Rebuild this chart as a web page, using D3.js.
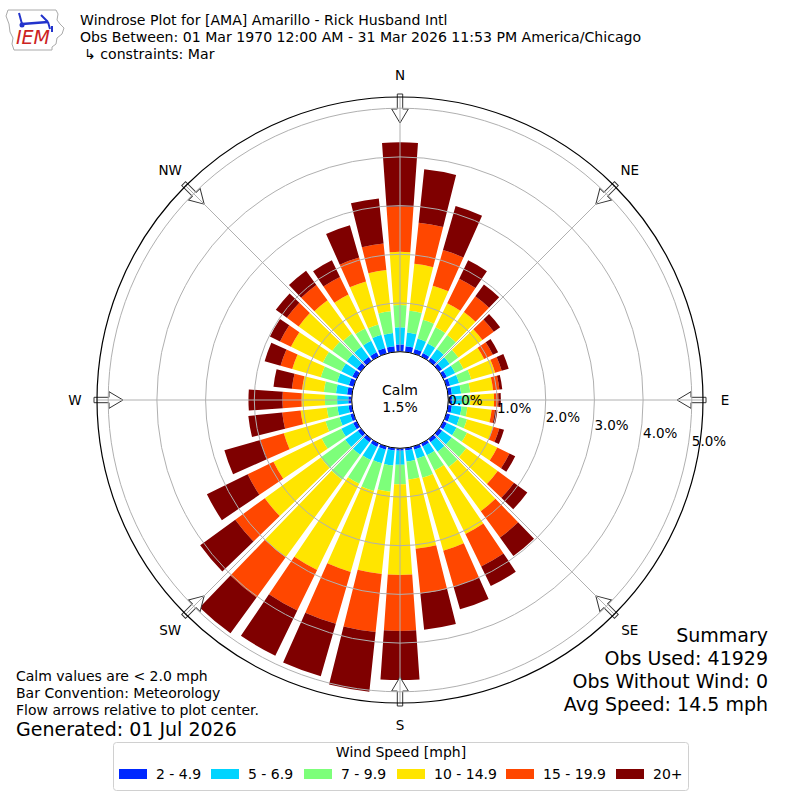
<!DOCTYPE html>
<html>
<head>
<meta charset="utf-8">
<script src="https://cdn.jsdelivr.net/npm/d3@7"></script>
<style>
  body { margin: 0; background: #fff; }
  svg text { font-family: "DejaVu Sans", sans-serif; fill: #000; }
</style>
</head>
<body>
<svg id="chart_svg" width="800" height="800"></svg>
<script>
// directions the wind comes from, degrees
var directions = d3.range(0, 360, 10);

// percent of obs per direction, one array per speed bin (mph)
var speed2  = [0.15,0.12,0.10,0.08,0.08,0.08,0.08,0.08,0.08,0.08,0.08,0.08,0.08,0.08,0.08,0.07,0.07,0.05,
               0.05,0.05,0.07,0.08,0.08,0.08,0.08,0.07,0.07,0.07,0.10,0.10,0.10,0.10,0.10,0.10,0.12,0.12];
var speed5  = [0.35,0.28,0.22,0.22,0.22,0.19,0.19,0.19,0.19,0.20,0.20,0.20,0.22,0.24,0.24,0.20,0.19,0.23,
               0.29,0.31,0.29,0.30,0.32,0.32,0.27,0.23,0.23,0.23,0.23,0.25,0.25,0.26,0.26,0.26,0.28,0.27];
var speed7  = [0.46,0.45,0.40,0.37,0.36,0.22,0.19,0.26,0.19,0.17,0.12,0.16,0.24,0.37,0.39,0.35,0.41,0.37,
               0.40,0.54,0.59,0.54,0.63,0.62,0.45,0.30,0.22,0.25,0.25,0.35,0.42,0.37,0.33,0.28,0.22,0.45];
var speed10 = [1.09,0.97,0.73,0.55,0.58,0.61,0.47,0.51,0.47,0.49,0.50,0.56,0.69,0.80,1.12,1.45,1.56,1.43,
               1.86,1.70,1.73,1.97,1.97,1.42,1.10,0.89,0.54,0.48,0.45,0.61,0.73,0.85,0.85,0.78,0.92,0.85];
var speed15 = [0.93,0.85,0.76,0.56,0.40,0.29,0.20,0.14,0.13,0.09,0.07,0.13,0.28,0.41,0.67,0.74,0.76,0.92,
               1.15,1.20,1.11,0.93,1.02,0.75,0.59,0.50,0.38,0.39,0.21,0.25,0.25,0.30,0.39,0.40,0.51,0.55];
var speed20 = [1.32,1.10,0.94,0.42,0.30,0.16,0.12,0.15,0.06,0.05,0.05,0.10,0.13,0.34,0.47,0.45,0.49,0.75,
               1.01,1.23,1.12,1.03,0.91,0.89,0.93,0.77,0.70,0.70,0.38,0.34,0.23,0.28,0.36,0.38,0.69,0.93];

var speedKeys = ["s2", "s5", "s7", "s10", "s15", "s20"];
var speedLabels = ["2 - 4.9", "5 - 6.9", "7 - 9.9", "10 - 14.9", "15 - 19.9", "20+"];
var speedColors = ["#0028ff", "#00d4ff", "#7dff7a", "#ffe500", "#ff4700", "#7f0000"];

var ringTicks = [0, 1, 2, 3, 4, 5];
var compass = [
  { name: "N", deg: 0 }, { name: "NE", deg: 45 }, { name: "E", deg: 90 }, { name: "SE", deg: 135 },
  { name: "S", deg: 180 }, { name: "SW", deg: 225 }, { name: "W", deg: 270 }, { name: "NW", deg: 315 }
];

var calmPct = "1.5%";
var titleLines = [
  "Windrose Plot for [AMA] Amarillo - Rick Husband Intl",
  "Obs Between: 01 Mar 1970 12:00 AM - 31 Mar 2026 11:53 PM America/Chicago",
  "\u21b3 constraints: Mar"
];
var noteLines = ["Calm values are < 2.0 mph", "Bar Convention: Meteorology", "Flow arrows relative to plot center."];
var summaryLines = ["Summary", "Obs Used: 41929", "Obs Without Wind: 0", "Avg Speed: 14.5 mph"];

var CX = 400, CY = 400;
var R_OUTER = 303;

function drawWindrose() {
  var svg = d3.select("#chart_svg");
  var rad = Math.PI / 180;

  // table for d3.stack
  var table = directions.map(function (d, i) {
    return { dir: d, s2: speed2[i], s5: speed5[i], s7: speed7[i], s10: speed10[i], s15: speed15[i], s20: speed20[i] };
  });
  var series = d3.stack().keys(speedKeys)(table);

  var rScale = d3.scaleLinear().domain([0, 5.23]).range([48.3, R_OUTER]);
  var color = d3.scaleOrdinal().domain(speedKeys).range(speedColors);

  var plot = svg.append("g").attr("transform", "translate(" + CX + "," + CY + ")");

  // bars, 8 degrees wide out of each 10 degree sector
  var arc = d3.arc()
    .innerRadius(function (d) { return rScale(d[0]); })
    .outerRadius(function (d) { return rScale(d[1]); })
    .startAngle(function (d) { return (d.data.dir - 4) * rad; })
    .endAngle(function (d) { return (d.data.dir + 4) * rad; });

  plot.selectAll("g.layer").data(series).enter().append("g")
    .attr("class", "layer")
    .attr("fill", function (s) { return color(s.key); })
    .selectAll("path").data(function (s) { return s; }).enter().append("path")
    .attr("d", arc);

  // arrows at the compass points, pointing inward
  compass.forEach(function (c) {
    var a = plot.append("g").attr("transform", "rotate(" + c.deg + ")");
    a.append("path")
      .attr("d", "M-2.7," + (-306) + "L2.7," + (-306) + "L2.7," + (-291) + "L8.3," + (-291) +
                 "L0," + (-277) + "L-8.3," + (-291) + "L-2.7," + (-291) + "Z")
      .attr("fill", "#fff").attr("stroke", "#333").attr("stroke-width", 1);
  });

  // grid over the bars
  plot.selectAll("circle.ring").data(ringTicks).enter().append("circle")
    .attr("class", "ring").attr("r", function (d) { return rScale(d); })
    .attr("fill", "none").attr("stroke", "#b0b0b0").attr("stroke-width", 1);

  plot.selectAll("line.spoke").data(compass).enter().append("line")
    .attr("class", "spoke")
    .attr("x1", function (c) { return rScale(0) * Math.sin(c.deg * rad); })
    .attr("y1", function (c) { return -rScale(0) * Math.cos(c.deg * rad); })
    .attr("x2", function (c) { return R_OUTER * Math.sin(c.deg * rad); })
    .attr("y2", function (c) { return -R_OUTER * Math.cos(c.deg * rad); })
    .attr("stroke", "#b0b0b0").attr("stroke-width", 1);

  plot.append("circle").attr("r", R_OUTER).attr("fill", "none").attr("stroke", "#000").attr("stroke-width", 1.2);
  plot.append("circle").attr("r", rScale(0)).attr("fill", "#fff").attr("stroke", "#000").attr("stroke-width", 1);

  plot.append("text").attr("x", 0).attr("y", -5).attr("text-anchor", "middle")
    .attr("font-size", 14).text("Calm");
  plot.append("text").attr("x", 0).attr("y", 12).attr("text-anchor", "middle")
    .attr("font-size", 14).text(calmPct);

  // radial labels
  plot.selectAll("text.rlab").data(ringTicks).enter().append("text")
    .attr("class", "rlab")
    .attr("x", function (d) { return rScale(d); })
    .attr("y", function (d) { return (rScale(d) - rScale(0)) * 0.17; })
    .attr("dominant-baseline", "central")
    .attr("font-size", 13.5)
    .text(function (d) { return d.toFixed(1) + "%"; });

  // compass labels
  plot.selectAll("text.clab").data(compass).enter().append("text")
    .attr("class", "clab")
    .attr("x", function (c) { return 325 * Math.sin(c.deg * rad); })
    .attr("y", function (c) { return -325 * Math.cos(c.deg * rad); })
    .attr("text-anchor", "middle").attr("dominant-baseline", "central")
    .attr("font-size", 13.5)
    .text(function (c) { return c.name; });

  // header
  titleLines.forEach(function (t, i) {
    svg.append("text").attr("x", i === 2 ? 84 : 80).attr("y", 25 + i * 17).attr("font-size", 14.1).text(t);
  });

  // logo
  var logo = svg.append("g");
  logo.append("path")
    .attr("d", "M8,10 L56,10 L58,14 L57,20 L60,24 L64,28 L62,34 L57,38 L56,44 L52,47 L52,50 L14,50 L12,44 L13,38 L10,32 L9,24 L6,16 Z")
    .attr("fill", "none").attr("stroke", "#aaa").attr("stroke-width", 1);
  logo.append("path").attr("d", "M22,24 L48,22").attr("stroke", "#2233cc").attr("stroke-width", 2.5).attr("fill", "none");
  logo.append("path").attr("d", "M19,13 L22,24 M41,15 L48,22 M48,22 L50,29 M52,26 L52,32")
    .attr("stroke", "#2233cc").attr("stroke-width", 2).attr("fill", "none");
  logo.append("circle").attr("cx", 22).attr("cy", 25).attr("r", 2.5).attr("fill", "#2233cc");
  logo.append("text").attr("x", 16).attr("y", 44).attr("font-family", "Liberation Serif, serif")
    .attr("font-style", "italic").attr("font-size", 19).style("fill", "#cc2222").text("IEM");

  // notes bottom left
  noteLines.forEach(function (t, i) {
    svg.append("text").attr("x", 16).attr("y", 681 + i * 17).attr("font-size", 14).text(t);
  });
  svg.append("text").attr("x", 16).attr("y", 736).attr("font-size", 19).text("Generated: 01 Jul 2026");

  // summary bottom right
  summaryLines.forEach(function (t, i) {
    svg.append("text").attr("x", 768).attr("y", 642 + i * 23).attr("text-anchor", "end")
      .attr("font-size", 19).text(t);
  });

  // legend
  var legend = svg.append("g");
  legend.append("rect").attr("x", 113.5).attr("y", 742.5).attr("width", 575).attr("height", 48)
    .attr("rx", 3).attr("fill", "#fff").attr("stroke", "#d0d0d0");
  legend.append("text").attr("x", 401).attr("y", 757).attr("text-anchor", "middle")
    .attr("font-size", 14).text("Wind Speed [mph]");
  var legendX = [119, 211, 304, 397, 506, 616];
  speedKeys.forEach(function (k, i) {
    legend.append("rect").attr("x", legendX[i]).attr("y", 769).attr("width", 28).attr("height", 10)
      .attr("fill", color(k));
    legend.append("text").attr("x", legendX[i] + 37).attr("y", 774).attr("dominant-baseline", "central")
      .attr("font-size", 14).text(speedLabels[i]);
  });
}

drawWindrose();
</script>
</body>
</html>
